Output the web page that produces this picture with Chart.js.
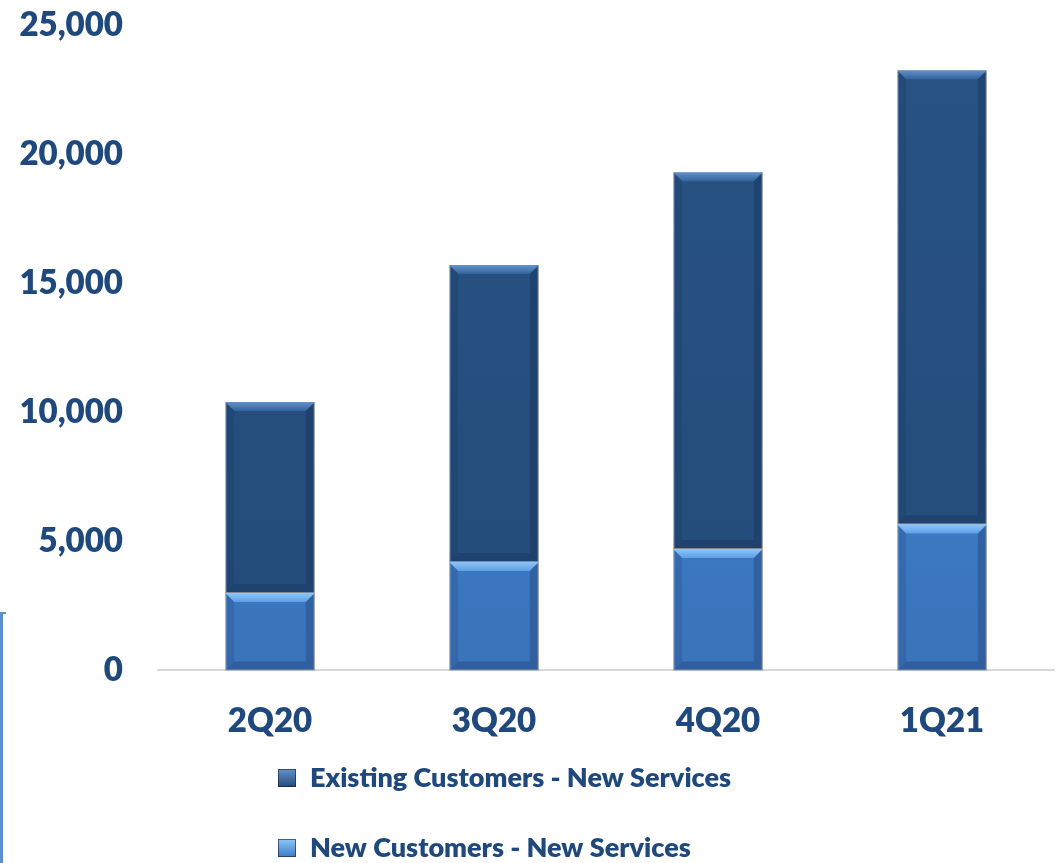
<!DOCTYPE html>
<html>
<head>
<meta charset="utf-8">
<script src="https://cdn.jsdelivr.net/npm/chart.js@4.4.1/dist/chart.umd.min.js"></script>
<style>
  html, body { margin: 0; padding: 0; background: #fff; }
  #wrap { position: relative; width: 1056px; height: 863px; }
  #frame { position: absolute; left: 0; top: 612px; width: 6px; height: 251px;
           border-left: 3px solid #5b8fd0; border-top: 2px solid #5b8fd0; box-sizing: border-box; }
</style>
</head>
<body>
<div id="wrap">
  <canvas id="chart"></canvas>
  <div id="frame"></div>
</div>
<script>
// Trimestres e valores empilhados
const quarters = ['2Q20', '3Q20', '4Q20', '1Q21'];
const newCustomers = [3000, 4200, 4700, 5650];
const existingCustomers = [7400, 11500, 14600, 17600];
const yTicks = [0, 5000, 10000, 15000, 20000, 25000];

const TEXT_COLOR = '#1f497d';
const FONT = 'Lato, "Open Sans", sans-serif';
const WEIGHT = '800';

// Gradiente vertical para o corpo das barras
function barGradient(top, bottom) {
  return context => {
    const area = context.chart.chartArea;
    if (!area) return bottom;
    const g = context.chart.ctx.createLinearGradient(0, area.top, 0, area.bottom);
    g.addColorStop(0, top);
    g.addColorStop(1, bottom);
    return g;
  };
}

// Efeito de chanfro (bevel) desenhado sobre cada barra
const bevelPlugin = {
  id: 'bevel',
  afterDatasetsDraw(chart) {
    const ctx = chart.ctx;
    const b = 9;
    chart.data.datasets.forEach((ds, di) => {
      const meta = chart.getDatasetMeta(di);
      meta.data.forEach(bar => {
        const { x, y, base, width } = bar.getProps(['x', 'y', 'base', 'width'], true);
        const l = x - width / 2, r = x + width / 2, t = y, bt = base;
        ctx.save();
        // topo claro
        let g = ctx.createLinearGradient(0, t, 0, t + b);
        g.addColorStop(0, ds.bevelTop[0]);
        g.addColorStop(1, ds.bevelTop[1]);
        ctx.fillStyle = g;
        ctx.beginPath();
        ctx.moveTo(l, t); ctx.lineTo(r, t); ctx.lineTo(r - b, t + b); ctx.lineTo(l + b, t + b);
        ctx.closePath(); ctx.fill();
        // laterais
        ctx.fillStyle = 'rgba(10, 25, 60, 0.12)';
        ctx.beginPath();
        ctx.moveTo(l, t); ctx.lineTo(l + b, t + b); ctx.lineTo(l + b, bt - b); ctx.lineTo(l, bt);
        ctx.closePath(); ctx.fill();
        ctx.fillStyle = 'rgba(10, 25, 60, 0.22)';
        ctx.beginPath();
        ctx.moveTo(r, t); ctx.lineTo(r - b, t + b); ctx.lineTo(r - b, bt - b); ctx.lineTo(r, bt);
        ctx.closePath(); ctx.fill();
        // base escura
        ctx.fillStyle = 'rgba(10, 25, 60, 0.22)';
        ctx.beginPath();
        ctx.moveTo(l, bt); ctx.lineTo(l + b, bt - b); ctx.lineTo(r - b, bt - b); ctx.lineTo(r, bt);
        ctx.closePath(); ctx.fill();
        ctx.restore();
      });
    });
  }
};

// Legenda em duas linhas, abaixo dos rótulos do eixo X
const stackedLegend = {
  id: 'stackedLegend',
  afterDraw(chart) {
    const ctx = chart.ctx;
    const items = [1, 0].map(i => chart.data.datasets[i]);
    const x0 = 278, size = 18;
    const rows = [chart.height - 85, chart.height - 15];
    ctx.save();
    ctx.font = WEIGHT + ' 27px ' + FONT;
    ctx.textBaseline = 'middle';
    items.forEach((ds, i) => {
      const cy = rows[i];
      const g = ctx.createLinearGradient(0, cy - size / 2, 0, cy + size / 2);
      g.addColorStop(0, ds.bevelTop[0]);
      g.addColorStop(1, ds.legendColor);
      ctx.fillStyle = g;
      ctx.fillRect(x0, cy - size / 2, size, size);
      ctx.strokeStyle = 'rgba(20, 30, 50, 0.6)';
      ctx.lineWidth = 1;
      ctx.strokeRect(x0 + 0.5, cy - size / 2 + 0.5, size - 1, size - 1);
      ctx.fillStyle = TEXT_COLOR;
      ctx.fillText(ds.label, x0 + 32, cy);
    });
    ctx.restore();
  }
};

new Chart(document.getElementById('chart'), {
  type: 'bar',
  data: {
    labels: quarters,
    datasets: [
      {
        label: 'New Customers - New Services',
        data: newCustomers,
        backgroundColor: barGradient('#4589d8', '#3a74ba'),
        borderColor: 'rgba(90, 95, 105, 0.55)',
        borderWidth: 1,
        borderSkipped: false,
        bevelTop: ['#8cc6fa', '#5d9ee6'],
        legendColor: '#3c7cc8'
      },
      {
        label: 'Existing Customers - New Services',
        data: existingCustomers,
        backgroundColor: barGradient('#285383', '#244c7a'),
        borderColor: 'rgba(90, 95, 105, 0.55)',
        borderWidth: 1,
        borderSkipped: false,
        bevelTop: ['#6393cc', '#33639b'],
        legendColor: '#234a78'
      }
    ]
  },
  options: {
    responsive: true,
    maintainAspectRatio: false,
    animation: false,
    layout: { padding: { left: 20, right: 2, top: 25, bottom: 91 } },
    plugins: {
      legend: { display: false },
      tooltip: { enabled: false }
    },
    datasets: {
      bar: { categoryPercentage: 1, barPercentage: 0.4 }
    },
    scales: {
      x: {
        stacked: true,
        grid: { display: false, drawTicks: false },
        border: { display: true, color: '#d9d9d9', width: 2 },
        ticks: { color: TEXT_COLOR, font: { family: FONT, size: 33, weight: WEIGHT }, padding: 31 }
      },
      y: {
        stacked: true,
        min: 0,
        max: 25000,
        afterBuildTicks: axis => { axis.ticks = yTicks.map(v => ({ value: v })); },
        afterFit: axis => {
          axis.width = 138;
          axis.paddingTop = 0;
          axis.paddingBottom = 0;
        },
        grid: { display: false, drawTicks: false },
        border: { display: false },
        ticks: {
          color: TEXT_COLOR,
          font: { family: FONT, size: 33, weight: WEIGHT },
          padding: 35,
          callback: v => v.toLocaleString('en-US')
        }
      }
    }
  },
  plugins: [bevelPlugin, stackedLegend]
});
</script>
</body>
</html>
